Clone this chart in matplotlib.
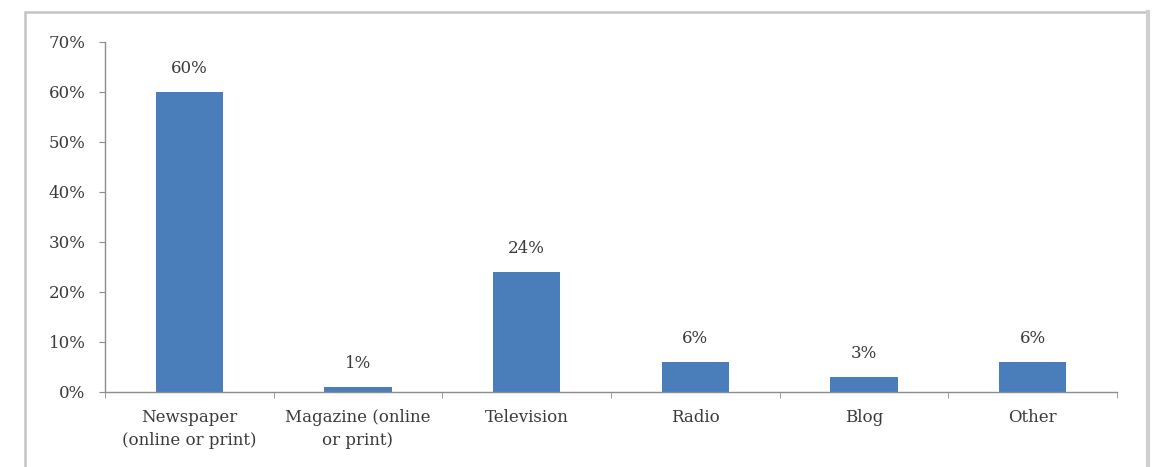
import matplotlib
matplotlib.use("Agg")
import matplotlib.pyplot as plt
from matplotlib.patches import Rectangle
from matplotlib.lines import Line2D
from matplotlib.ticker import FixedLocator, PercentFormatter

categories = ["Newspaper\n(online or print)", "Magazine (online\nor print)", "Television", "Radio", "Blog", "Other"]
values = [60, 1, 24, 6, 3, 6]
data_labels = ["60%", "1%", "24%", "6%", "3%", "6%"]
yticks = [0, 10, 20, 30, 40, 50, 60, 70]

plt.rcParams['font.family'] = ['DejaVu Serif']
TEXT = '#3a3a3a'
AXIS = '#8c8c8c'
FS = 12

fig = plt.figure(figsize=(11.53, 4.67), dpi=100)
# outer chart border
fig.patches.append(Rectangle((25/1153, -0.1), (1147-25)/1153, 1.1 - 12/467,
                             transform=fig.transFigure, fill=False,
                             edgecolor='#c4c4c4', linewidth=1.8, zorder=0))
fig.lines.append(Line2D([1147.5/1153, 1147.5/1153], [0, 1 - 12/467],
                        transform=fig.transFigure, color='#cfcfcf', linewidth=3.0))

ax = fig.add_axes([105/1153, 75/467, (1117-105)/1153, (392-42)/467])
x = list(range(len(categories)))
bars = ax.bar(x, values, width=0.4, color='#4A7EBB', zorder=2)

for xi, v, lab in zip(x, values, data_labels):
    ax.annotate(lab, (xi, v), xytext=(0, 11), textcoords='offset points',
                ha='center', va='bottom', fontsize=FS, color=TEXT)

ax.set_xlim(-0.5, len(categories) - 0.5)
ax.set_ylim(0, 70)
ax.set_yticks(yticks)
ax.yaxis.set_major_formatter(PercentFormatter(decimals=0))
ax.set_xticks(x)
ax.set_xticklabels(categories, fontsize=FS, color=TEXT, linespacing=1.45)
ax.xaxis.set_minor_locator(FixedLocator([i - 0.5 for i in range(len(categories) + 1)]))
ax.tick_params(axis='x', which='major', length=0, pad=12)
ax.tick_params(axis='x', which='minor', length=4, color=AXIS, direction='out')
ax.tick_params(axis='y', length=4, color=AXIS, pad=10, labelsize=FS, labelcolor=TEXT)

for s in ['top', 'right']:
    ax.spines[s].set_visible(False)
for s in ['left', 'bottom']:
    ax.spines[s].set_color(AXIS)
    ax.spines[s].set_linewidth(1.0)

fig.savefig("out.png", dpi=100)
